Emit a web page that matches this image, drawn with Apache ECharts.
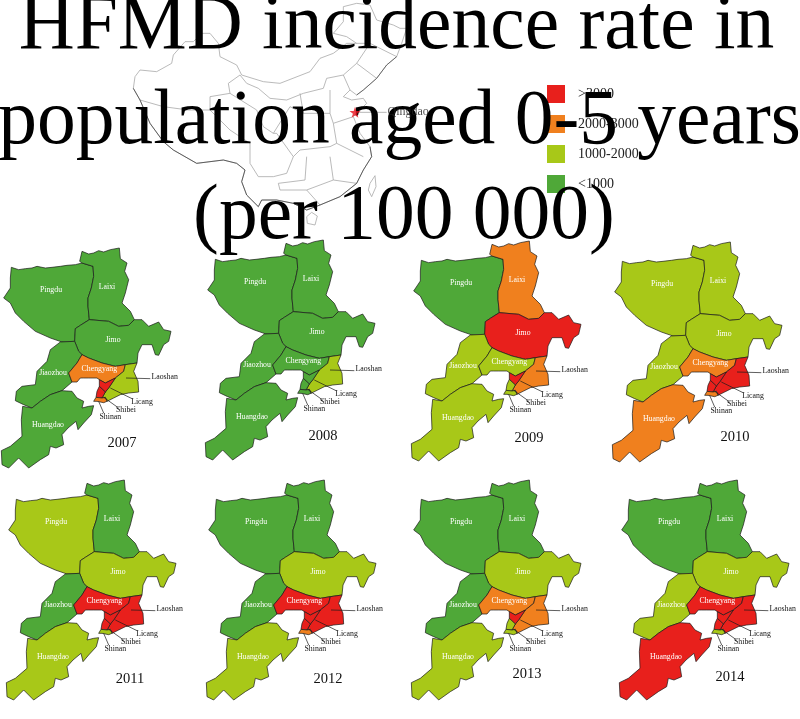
<!DOCTYPE html>
<html><head><meta charset="utf-8">
<style>html,body{margin:0;padding:0;background:#fff}#c{width:800px;height:719px}</style>
<script src="https://cdn.jsdelivr.net/npm/echarts@6/dist/echarts.min.js"></script>
</head><body><div id="c"></div>
<script>
// ---- data: incidence class per district per year (0:<1000, 1:1000-2000, 2:2000-3000, 3:>3000)
const districts = ['Pingdu','Laixi','Jimo','Jiaozhou','Huangdao','Chengyang','Laoshan','Licang','Shibei','Shinan'];
const years = ['2007','2008','2009','2010','2011','2012','2013','2014'];
const y2007 = [0,0,0,0,0,2,1,3,3,2];
const y2008 = [0,0,0,0,0,0,1,0,0,0];
const y2009 = [0,2,3,1,1,1,2,3,1,1];
const y2010 = [1,1,1,1,2,2,3,3,3,2];
const y2011 = [1,0,1,0,1,3,3,3,3,1];
const y2012 = [0,0,1,0,1,3,3,3,3,2];
const y2013 = [0,0,1,0,1,2,2,3,1,1];
const y2014 = [0,0,1,1,3,3,3,3,3,1];
const classesByYear = [y2007,y2008,y2009,y2010,y2011,y2012,y2013,y2014];
const legendLabels = ['>3000','2000-3000','1000-2000','<1000'];
const titleLines = ['HFMD incidence rate in','population aged 0-5 years','(per 100 000)'];

// ---- map geometry (district boundaries, map units)
const boundaries = {
 Pingdu:[[88,88],[110,95],[130,92],[150,90],[165,85],[190,90],[210,88],[235,85],[255,82],[280,80],[300,75],[333,85],[335,115],[328,150],[318,180],[318,205],[322,245],[295,262],[280,272],[278,310],[240,312],[205,300],[160,280],[125,250],[100,225],[85,195],[65,180],[85,150],[85,120]],
 Laixi:[[293,70],[300,40],[320,48],[335,45],[350,38],[365,42],[385,35],[412,30],[415,62],[435,75],[428,100],[440,125],[430,165],[420,195],[445,220],[457,245],[440,262],[410,265],[380,250],[322,245],[318,205],[318,180],[328,150],[335,115],[333,85],[300,75]],
 Jimo:[[322,245],[380,250],[410,265],[440,262],[457,245],[480,245],[500,265],[530,252],[545,275],[567,280],[560,310],[545,320],[530,352],[520,350],[510,320],[480,320],[468,345],[465,375],[430,380],[400,385],[360,375],[320,360],[300,350],[290,340],[278,310],[280,272],[295,262]],
 Jiaozhou:[[278,310],[290,340],[300,350],[285,375],[260,405],[270,432],[240,458],[205,470],[175,490],[150,510],[125,500],[100,488],[103,460],[120,445],[160,440],[165,400],[195,370],[205,335],[235,312]],
 Huangdao:[[240,458],[270,460],[285,480],[305,490],[300,510],[320,505],[335,503],[328,530],[305,555],[288,575],[282,550],[258,570],[240,590],[245,620],[222,630],[205,625],[200,650],[175,665],[140,690],[110,660],[80,690],[60,680],[58,638],[85,625],[120,595],[118,545],[122,505],[150,510],[175,490],[205,470]],
 Chengyang:[[300,350],[320,360],[360,375],[400,385],[430,380],[425,400],[400,420],[370,435],[352,425],[345,420],[320,420],[305,420],[295,420],[285,432],[270,432],[260,405],[285,375]],
 Laoshan:[[430,380],[465,375],[455,400],[468,430],[470,462],[440,465],[415,470],[395,480],[375,490],[370,478],[360,480],[370,462],[380,450],[400,420],[425,400]],
 Licang:[[352,425],[370,435],[400,420],[380,450],[370,462],[352,445]],
 Shibei:[[352,445],[370,462],[360,480],[342,478],[345,460]],
 Shinan:[[335,490],[342,478],[360,480],[370,478],[375,490],[365,494],[345,490]]
};
const labelAnchors = {Pingdu:[207,157],Laixi:[375,148],Jimo:[393,307],Jiaozhou:[213,405],Huangdao:[198,560],Chengyang:[352,392],Laoshan:[548,418],Licang:[480,492],Shibei:[432,517],Shinan:[385,537]};
const leaderLines = [[[432,420],[505,422]],[[385,450],[450,482]],[[365,478],[410,510]],[[350,490],[365,525]]];
const outsideLabels = ['Laoshan','Licang','Shibei','Shinan'];

// ---- inset map of China
const chinaOutline = [[640,20],[680,10],[720,15],[740,60],[790,75],[810,85],[830,85],[815,130],[800,170],[770,195],[740,235],[700,270],[680,285],[660,270],[640,290],[665,300],[700,295],[710,310],[680,340],[670,350],[690,400],[720,440],[725,470],[700,510],[680,550],[630,590],[570,615],[530,630],[490,610],[440,600],[395,600],[385,620],[350,585],[335,545],[345,510],[320,490],[280,480],[200,490],[130,450],[100,425],[60,370],[30,300],[10,265],[15,230],[30,210],[80,215],[125,190],[130,165],[165,125],[190,125],[215,100],[240,100],[265,130],[270,170],[320,195],[335,225],[400,245],[450,250],[540,215],[570,175],[610,160],[650,130],[680,130],[650,110],[610,100],[640,65]];
const chinaDarkBorder = [[10,265],[30,300],[60,370],[100,425],[130,450],[200,490],[280,480],[320,490],[345,510],[335,545],[350,585],[385,620],[395,600],[440,600],[490,610],[530,630],[570,615],[630,590],[680,550],[700,510],[725,470],[720,440]];
const chinaDarkCoast = [[800,170],[770,195],[740,235],[700,270],[680,285]];
const chinaIslands = [[[720,550],[735,527],[738,560],[725,590],[715,570]],[[530,650],[545,637],[562,648],[555,675],[532,670]]];
const chinaProvinceLines = [
 [[30,300],[100,320],[175,330],[240,330],[240,290],[300,280],[295,250],[330,225]],
 [[330,225],[350,250],[385,265],[420,295],[470,300],[520,280],[580,265],[590,235],[640,225],[680,190],[720,130],[680,130]],
 [[300,280],[380,330],[400,380],[430,400]],
 [[240,330],[300,390],[360,430],[360,490]],
 [[360,490],[385,530],[430,530],[470,520],[490,470],[440,400],[430,400]],
 [[430,400],[480,320],[520,340],[510,280]],
 [[520,340],[600,340],[600,270]],
 [[600,340],[610,370],[670,350]],
 [[610,370],[620,430],[700,470]],
 [[490,470],[510,450],[600,440],[620,430]],
 [[530,470],[525,540],[445,550],[450,570],[530,570],[570,615]],
 [[600,470],[610,540],[680,550]],[[610,540],[530,570]],
 [[640,225],[660,270]],[[680,190],[740,235]],[[720,130],[800,170]]
];
const qingdaoPoint = [675,337];
const qingdaoLeader = [[685,337],[770,337]];

// ---- layout and style
const palette = ['#4fa838','#a8c818','#f0801e','#e8201c'];
const serif = '"Liberation Serif","Times New Roman",serif';
const unit = 1/3;
const panelOrigins = [[-18,238],[186,230],[392,231],[593,232],[-13,470],[187,470],[392,470],[600,470]];
const yearPositions = [[122,444],[323,437],[529,439],[735,438],[130,680],[328,680],[527,675],[730,678]];
const titleCenters = [396.5,399.5,404];
const titleTops = [-11,83.5,179];
const chinaOrigin = [130,0];

const close = r => r.concat([r[0]]);
const poly = (name,r,cp) => ({type:'Feature',properties:cp?{name,cp}:{name},geometry:{type:'Polygon',coordinates:[close(r)]}});
const line = (name,r) => ({type:'Feature',properties:{name},geometry:{type:'LineString',coordinates:r}});
const qingdaoGeo = {type:'FeatureCollection',features:
  districts.map(d=>poly(d,boundaries[d],labelAnchors[d])).concat(leaderLines.map((l,i)=>line('leader'+i,l)))};
const provNames = chinaProvinceLines.map((l,i)=>'prov'+i);
const chinaGeo = {type:'FeatureCollection',features:
  [poly('outline',chinaOutline)].concat(chinaIslands.map((r,i)=>poly('island'+i,r)),
  chinaProvinceLines.map((l,i)=>line(provNames[i],l)),
  [line('darkBorder',chinaDarkBorder),line('darkCoast',chinaDarkCoast),line('qdLeader',qingdaoLeader)])};
function bounds(fc){let a=1e9,b=1e9,c=-1e9,d=-1e9;
  fc.features.forEach(f=>{const g=f.geometry,pts=g.type==='Polygon'?g.coordinates[0]:g.coordinates;
    pts.forEach(p=>{a=Math.min(a,p[0]);b=Math.min(b,p[1]);c=Math.max(c,p[0]);d=Math.max(d,p[1]);});});
  return {x:a,y:b,w:c-a,h:d-b};}
const identity = {project:p=>p,unproject:p=>p};
const qb = bounds(qingdaoGeo), cb = bounds(chinaGeo);
years.forEach(y=>echarts.registerMap('qd'+y,{geoJSON:qingdaoGeo}));
echarts.registerMap('chinaInset',{geoJSON:chinaGeo});

const mapSeries = years.map((y,i)=>({
  type:'map',map:'qd'+y,projection:identity,aspectScale:1,roam:false,silent:true,selectedMode:false,
  left:panelOrigins[i][0]+qb.x*unit,top:panelOrigins[i][1]+qb.y*unit,width:qb.w*unit,height:qb.h*unit,
  label:{show:true,color:'#fff',fontFamily:serif,fontSize:7.8,
    formatter:p=>districts.includes(p.name)?p.name:''},
  itemStyle:{borderColor:'#1a1a1a',borderWidth:0.7,areaColor:'transparent'},
  emphasis:{disabled:true},
  data:districts.map((d,k)=>({name:d,value:classesByYear[i][k],
    label:outsideLabels.includes(d)?{color:'#111'}:undefined}))
}));

const lightLine = {borderColor:'#a8a8a8',borderWidth:0.8};
const option = {
  backgroundColor:'#fff',animation:false,
  title:titleLines.map((t,i)=>({text:t,left:titleCenters[i],top:titleTops[i],textAlign:'center',padding:0,
      textStyle:{fontFamily:serif,fontSize:77.5,fontWeight:'normal',color:'#000'}}))
    .concat(years.map((y,i)=>({text:y,left:yearPositions[i][0],top:yearPositions[i][1]-8,textAlign:'center',padding:0,
      textStyle:{fontFamily:serif,fontSize:14.5,fontWeight:'normal',color:'#111'}}))),
  geo:{map:'chinaInset',projection:identity,aspectScale:1,roam:false,silent:true,
    left:chinaOrigin[0]+cb.x*unit,top:chinaOrigin[1]+cb.y*unit,width:cb.w*unit,height:cb.h*unit,
    itemStyle:{areaColor:'transparent',borderColor:'#a8a8a8',borderWidth:0.8},
    regions:provNames.map(n=>({name:n,itemStyle:lightLine})).concat([
             {name:'darkBorder',itemStyle:{borderColor:'#333',borderWidth:0.7}},
             {name:'darkCoast',itemStyle:{borderColor:'#444',borderWidth:0.7}},
             {name:'qdLeader',itemStyle:{borderColor:'#888',borderWidth:0.6}}]),
    label:{show:false},emphasis:{disabled:true}},
  visualMap:{type:'piecewise',seriesIndex:mapSeries.map((s,i)=>i+1),left:532,top:70,orient:'vertical',align:'left',
    itemWidth:18,itemHeight:18,itemGap:12,itemSymbol:'rect',textGap:13,selectedMode:false,hoverLink:false,
    textStyle:{fontFamily:serif,fontSize:14,color:'#222'},
    pieces:legendLabels.map((t,i)=>({value:3-i,label:t,color:palette[3-i]}))},
  series:[{type:'scatter',coordinateSystem:'geo',geoIndex:0,silent:true,z:7,
      symbol:'path://M50 0L62 36L100 36L69 59L81 95L50 73L19 95L31 59L0 36L38 36Z',symbolSize:11,
      itemStyle:{color:'#e8101c'},
      label:{show:true,formatter:'Qingdao',position:'right',distance:27,fontFamily:serif,fontSize:12,color:'#222'},
      data:[qingdaoPoint]}].concat(mapSeries)
};
const chart = echarts.init(document.getElementById('c'),null,{renderer:'canvas'});
chart.setOption(option);
</script></body></html>
